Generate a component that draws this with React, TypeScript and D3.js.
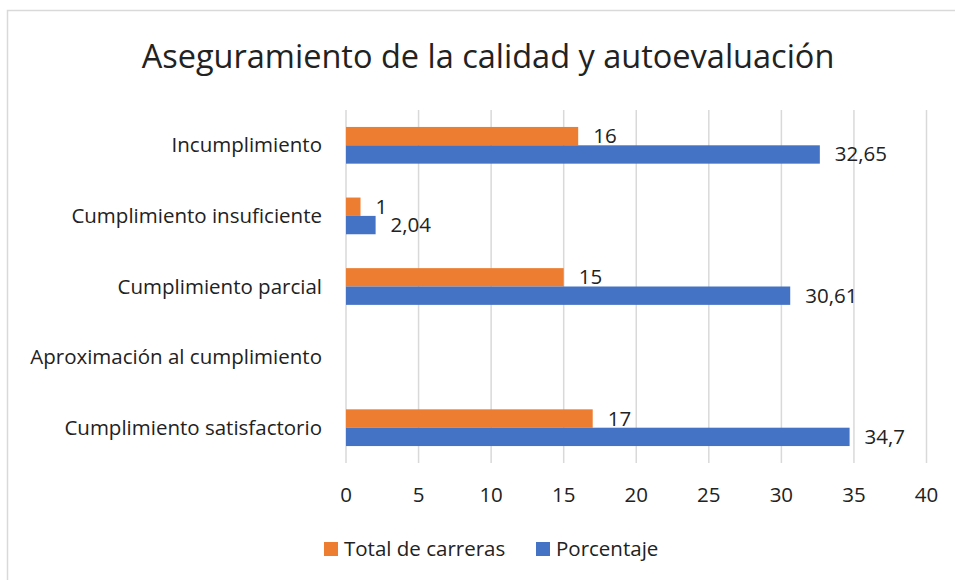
import React from "react";
import * as d3 from "d3";

const categories = [
  "Incumplimiento",
  "Cumplimiento insuficiente",
  "Cumplimiento parcial",
  "Aproximación al cumplimiento",
  "Cumplimiento satisfactorio",
];
const totalCarreras: (number | null)[] = [16, 1, 15, null, 17];
const porcentaje: (number | null)[] = [32.65, 2.04, 30.61, null, 34.7];
const seriesNames = ["Total de carreras", "Porcentaje"];
const seriesColors = ["#ED7D31", "#4472C4"];
const xTicks = [0, 5, 10, 15, 20, 25, 30, 35, 40];
const title = "Aseguramiento de la calidad y autoevaluación";

const W = 955;
const H = 580;
const FONT = "'Open Sans', sans-serif";
const FS = 20.5;

export default function App() {
  const x = d3.scaleLinear().domain([0, 40]).range([346, 926.5]);
  const y = d3
    .scaleBand<string>()
    .domain(categories)
    .range([110, 463])
    .paddingInner(0.48)
    .paddingOuter(0.24);
  const sub = d3
    .scaleBand<string>()
    .domain(seriesNames)
    .range([0, y.bandwidth()]);
  const series = [totalCarreras, porcentaje];
  const fmt = (v: number) => String(v).replace(".", ",");

  return (
    <svg
      width={W}
      height={H}
      style={{ position: "absolute", left: 0, top: 0, background: "#fff" }}
      fontFamily={FONT}
    >
      <rect x={7.5} y={10.5} width={W + 10} height={H + 10} fill="#fff" stroke="#d9d9d9" strokeWidth={1.5} />
      <text x={488} y={68} textAnchor="middle" fontSize={32.5} fill="#222">
        {title}
      </text>
      {xTicks.map((t) => (
        <g key={t}>
          <line x1={x(t)} x2={x(t)} y1={110} y2={463} stroke="#d9d9d9" strokeWidth={1.5} />
          <text x={x(t)} y={502} textAnchor="middle" fontSize={FS} fill="#222">
            {t}
          </text>
        </g>
      ))}
      {categories.map((c) => (
        <text
          key={c}
          x={322}
          y={(y(c) as number) + y.bandwidth() / 2 + 7}
          textAnchor="end"
          fontSize={FS}
          fill="#222"
        >
          {c}
        </text>
      ))}
      {series.map((vals, si) =>
        vals.map((v, i) => {
          if (v == null) return null;
          const c = categories[i];
          const by = (y(c) as number) + (sub(seriesNames[si]) as number);
          const bh = sub.bandwidth();
          return (
            <g key={`${si}-${i}`}>
              <rect x={x(0)} y={by} width={x(v) - x(0)} height={bh} fill={seriesColors[si]} />
              <text x={x(v) + 15} y={by + bh / 2 + 7} fontSize={FS} fill="#222">
                {fmt(v)}
              </text>
            </g>
          );
        })
      )}
      {seriesNames.map((s, i) => {
        const lx = i === 0 ? 324 : 536;
        return (
          <g key={s}>
            <rect x={lx} y={542} width={14} height={14} fill={seriesColors[i]} />
            <text x={lx + 20} y={556} fontSize={FS} fill="#222">
              {s}
            </text>
          </g>
        );
      })}
    </svg>
  );
}
